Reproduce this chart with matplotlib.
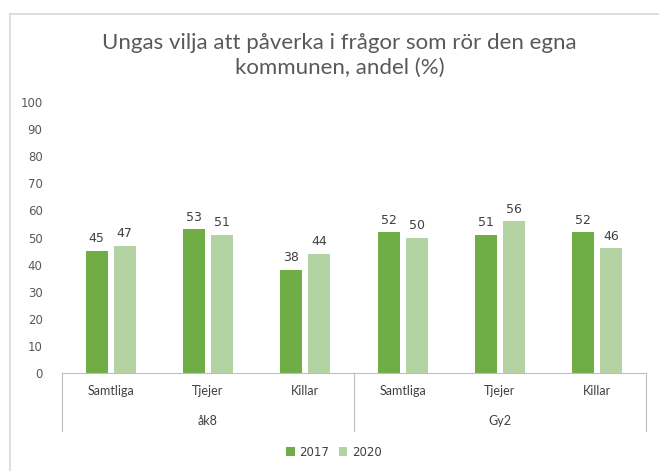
import numpy as np
import matplotlib.pyplot as plt
from matplotlib.lines import Line2D

# data
grupper = ["åk8", "Gy2"]
kategorier = ["Samtliga", "Tjejer", "Killar", "Samtliga", "Tjejer", "Killar"]
serier = ["2017", "2020"]
varden_2017 = [45, 53, 38, 52, 51, 52]
varden_2020 = [47, 51, 44, 50, 56, 46]
y_ticks = list(range(0, 101, 10))

W, H = 659, 471
fig = plt.figure(figsize=(W / 100, H / 100), dpi=100)
plt.rcParams['font.family'] = ['Lato', 'DejaVu Sans']
num_font = "DejaVu Sans"

# ram kring diagrammet (bara topp och vänster syns)
fig.lines.append(Line2D([10 / W, 1], [1 - 13.5 / H] * 2, transform=fig.transFigure,
                        color="#d9d9d9", linewidth=1.2))
fig.lines.append(Line2D([10 / W] * 2, [0, 1 - 13.5 / H], transform=fig.transFigure,
                        color="#d9d9d9", linewidth=1.2))

x0, x1, y0, y1 = 62, 646, 373, 102
ax = fig.add_axes([x0 / W, 1 - y0 / H, (x1 - x0) / W, (y0 - y1) / H])

n = len(kategorier)
x = np.arange(n)
bw = 0.227
gap = 0.03
b1 = ax.bar(x - bw / 2 - gap, varden_2017, bw, color="#70ad47", label=serier[0])
b2 = ax.bar(x + bw / 2 + gap, varden_2020, bw, color="#b4d3a3", label=serier[1])

for bars in (b1, b2):
    for b in bars:
        ax.annotate(f"{b.get_height():.0f}", (b.get_x() + b.get_width() / 2, b.get_height()),
                    xytext=(0, 4), textcoords="offset points", ha="center", va="bottom",
                    fontsize=9, color="#404040", family=num_font)

ax.set_xlim(-0.5, n - 0.5)
ax.set_ylim(0, 100)
ax.set_yticks(y_ticks)
ax.tick_params(axis="y", length=0, labelsize=8.5, colors="#595959", pad=14)
for lbl in ax.get_yticklabels():
    lbl.set_family(num_font)
ax.set_xticks([])
for s in ["top", "right", "left"]:
    ax.spines[s].set_visible(False)
ax.spines["bottom"].set_color("#bfbfbf")

# kategorietiketter och grupper
tr = ax.get_xaxis_transform()
for i, k in enumerate(kategorier):
    ax.text(i, -18 / (y0 - y1), k, transform=tr, ha="center", va="center",
            fontsize=9, color="#404040")
for g, name in enumerate(grupper):
    ax.text(g * 3 + 1, -48 / (y0 - y1), name, transform=tr, ha="center", va="center",
            fontsize=9, color="#404040")
for xb in [-0.5, 2.5, 5.5]:
    ax.plot([xb, xb], [0, -58 / (y0 - y1)], transform=tr, color="#bfbfbf",
            linewidth=0.8, clip_on=False)

fig.suptitle("Ungas vilja att påverka i frågor som rör den egna\nkommunen, andel (%)",
             x=0.515, y=1 - 33 / H, va="top", fontsize=16, color="#595959", linespacing=1.3)

fig.legend(handles=[b1, b2], labels=serier, loc="center", bbox_to_anchor=(334 / W, 1 - 452 / H),
           ncol=2, frameon=False, handlelength=0.7, handleheight=0.7,
           columnspacing=0.8, handletextpad=0.4, labelcolor="#404040",
           prop={"family": num_font, "size": 8.5})

fig.savefig("out.png", dpi=100)
